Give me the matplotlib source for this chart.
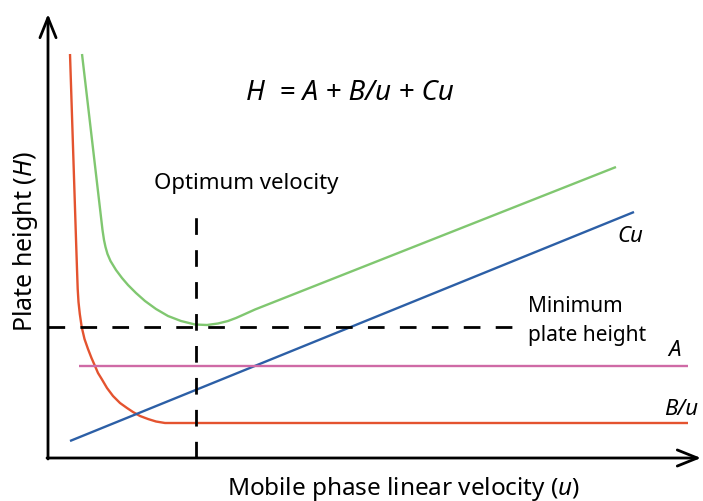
import matplotlib
matplotlib.use("Agg")
import matplotlib.pyplot as plt

plt.rcParams["font.family"] = ["Noto Sans", "DejaVu Sans"]
plt.rcParams["mathtext.fontset"] = "custom"
plt.rcParams["mathtext.rm"] = "Noto Sans"
plt.rcParams["mathtext.it"] = "Noto Sans:italic"

# Van Deemter schematic: H = A + B/u + Cu
# B/u term (longitudinal diffusion)
bu_u = [22, 28, 29, 29.7, 30.5, 31.8, 33.7, 36.5, 40, 43.5, 47, 50, 53.7, 59, 65,
        72, 79, 85, 92, 100, 108, 117, 640]
bu_H = [404, 219, 189, 169, 156, 144, 131, 119, 109, 100, 92, 85, 79, 70, 62,
        55, 50, 46, 42, 39, 36.5, 35, 35]

# Total plate height H
h_u = [34, 54.5, 56, 57.5, 59.5, 62.5, 68, 74, 80, 88, 97, 108, 120, 133, 147, 159,
       170, 180, 188, 197, 207, 568]
h_H = [404, 228, 218, 211, 204, 197, 188, 180, 173, 165, 157, 149, 142, 137, 133.5, 133,
       134.5, 137, 140, 144, 148.5, 291]

# Cu term (mass transfer)
cu_u = [22, 586]
cu_H = [17, 246]

# A term (eddy diffusion)
a_u = [31, 640]
a_H = [92, 92]

# Optimum point
u_opt = 148
h_min = 131

colors = {
    "H": "#80c770",
    "B": "#e4532f",
    "C": "#2c5fa6",
    "A": "#cf6aa6",
}

fig = plt.figure(figsize=(7.03, 5.02), dpi=100)
ax = fig.add_axes([0, 0, 1, 1])
ax.set_xlim(-48, 655)
ax.set_ylim(-43, 459)
ax.axis("off")

lw = 1.7
ax.plot(bu_u, bu_H, color=colors["B"], lw=lw, solid_capstyle="butt", solid_joinstyle="round")
ax.plot(h_u, h_H, color=colors["H"], lw=lw, solid_capstyle="butt", solid_joinstyle="round")
ax.plot(cu_u, cu_H, color=colors["C"], lw=lw, solid_capstyle="butt")
ax.plot(a_u, a_H, color=colors["A"], lw=lw, solid_capstyle="butt")

# Guide lines through the minimum of the curve
dash = (0, (6, 5.5))
ax.plot([0, 469], [h_min, h_min], color="black", lw=2, linestyle=dash)
ax.plot([u_opt, u_opt], [0, 254], color="black", lw=2, linestyle=dash)

# Axes with open arrowheads
arrow = dict(arrowstyle="->,head_length=1.44,head_width=0.58", lw=2,
             color="black", shrinkA=0, shrinkB=0, mutation_scale=10)
ax.annotate("", xy=(0, 444), xytext=(0, -1), arrowprops=arrow)
ax.annotate("", xy=(653, 0), xytext=(-1, 0), arrowprops=arrow)

ax.text(302, 366, "H  = A + B/u + Cu", fontsize=20, style="italic",
        ha="center", va="center")
ax.text(198.5, 276, "Optimum velocity", fontsize=16, ha="center", va="center")
ax.text(480, 153, "Minimum", fontsize=15, ha="left", va="center")
ax.text(480, 123, "plate height", fontsize=15, ha="left", va="center")
ax.text(582, 222, "Cu", fontsize=16, style="italic", ha="center", va="center")
ax.text(627, 109, "A", fontsize=16, style="italic", ha="center", va="center")
ax.text(633, 49, "B/u", fontsize=16, style="italic", ha="center", va="center")

ax.text(-23, 217, "Plate height ($\\mathit{H}$)", fontsize=18, rotation=90,
        ha="center", va="center")
ax.text(355, -30, "Mobile phase linear velocity ($\\mathit{u}$)", fontsize=17.5,
        ha="center", va="center")

fig.savefig("out.png", dpi=100)
